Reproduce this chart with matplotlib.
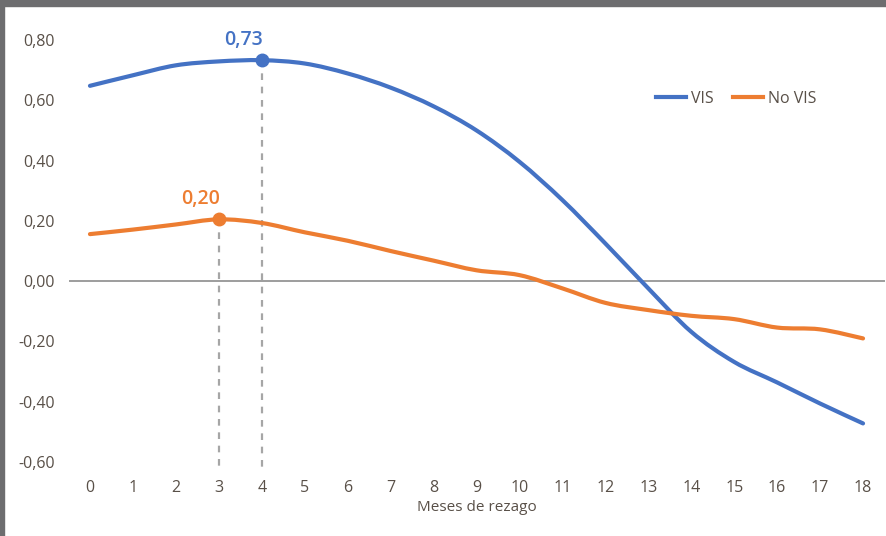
import numpy as np
import matplotlib
matplotlib.use("Agg")
import matplotlib.pyplot as plt
from matplotlib.path import Path
from matplotlib.patches import PathPatch, Rectangle
from matplotlib.lines import Line2D

plt.rcParams['font.family'] = ['Open Sans', 'DejaVu Sans']

# data
meses = list(range(19))
vis = [0.648, 0.683, 0.716, 0.729, 0.733, 0.722, 0.689, 0.642, 0.580, 0.500,
       0.396, 0.269, 0.125, -0.024, -0.168, -0.268, -0.336, -0.406, -0.472]
no_vis = [0.156, 0.171, 0.188, 0.205, 0.193, 0.162, 0.134, 0.100, 0.068, 0.036,
          0.020, -0.024, -0.072, -0.096, -0.115, -0.126, -0.154, -0.160, -0.190]
yticks = [-0.6, -0.4, -0.2, 0.0, 0.2, 0.4, 0.6, 0.8]
peak_vis = 4
peak_no_vis = 3

BLUE = '#4472C4'
ORANGE = '#ED7D31'
TXT = '#595048'


def smooth_path(x, y):
    # Catmull-Rom style cubic bezier, similar to Excel "smoothed line"
    pts = np.column_stack([x, y]).astype(float)
    n = len(pts)
    verts = [pts[0]]
    codes = [Path.MOVETO]
    for i in range(n - 1):
        p0 = pts[max(i - 1, 0)]
        p1 = pts[i]
        p2 = pts[i + 1]
        p3 = pts[min(i + 2, n - 1)]
        c1 = p1 + (p2 - p0) / 6.0
        c2 = p2 - (p3 - p1) / 6.0
        verts += [c1, c2, p2]
        codes += [Path.CURVE4] * 3
    return Path(verts, codes)


fig = plt.figure(figsize=(8.86, 5.36), dpi=100)
ax = fig.add_axes([68.5 / 886, 1 - 462 / 536, 816 / 886, 422 / 536])

ax.axhline(0, color='#8c8c8c', lw=1.2, zorder=1)

for ser, col in [(vis, BLUE), (no_vis, ORANGE)]:
    ax.add_patch(PathPatch(smooth_path(meses, ser), fill=False, edgecolor=col,
                           lw=3, capstyle='round', zorder=3))

# peak markers with dashed drop lines
for k, ser, col in [(peak_vis, vis, BLUE), (peak_no_vis, no_vis, ORANGE)]:
    ax.plot([meses[k], meses[k]], [ser[k], -0.62], ls=(0, (3, 3)), color='#a6a6a6',
            lw=1.6, zorder=2, clip_on=False)
    ax.plot(meses[k], ser[k], 'o', color=col, ms=9, zorder=4)
    ax.annotate(f"{ser[k]:.2f}".replace('.', ','), (meses[k], ser[k]),
                xytext=(1, 7.5), textcoords='offset points', ha='right',
                va='bottom', color=col, fontsize=14, fontweight='semibold')

ax.set_xlim(-0.5, 18.5)
ax.set_ylim(-0.6, 0.8)
ax.set_xticks(meses)
ax.set_yticks(yticks)
ax.set_yticklabels([f"{v:.2f}".replace('.', ',') for v in yticks])
ax.tick_params(length=0, labelsize=11.5, labelcolor=TXT)
ax.tick_params(axis='x', pad=13)
ax.tick_params(axis='y', pad=10)
for s in ax.spines.values():
    s.set_visible(False)
ax.set_xlabel('Meses de rezago', fontsize=11, color=TXT, labelpad=3)

handles = [Line2D([], [], color=BLUE, lw=3), Line2D([], [], color=ORANGE, lw=3)]
ax.legend(handles, ['VIS', 'No VIS'], loc='center', bbox_to_anchor=(736 / 886, 1 - 99 / 536),
          bbox_transform=fig.transFigure, ncol=2, frameon=False, fontsize=11.5,
          labelcolor=TXT, handlelength=1.9, handletextpad=0.3, columnspacing=1.2)

# grey frame of the original screenshot
fig.patches.append(Rectangle((0, 1 - 6 / 536), 1, 6 / 536, transform=fig.transFigure,
                             color='#6d6d6f', zorder=10))
fig.patches.append(Rectangle((0, 0), 4 / 886, 1, transform=fig.transFigure,
                             color='#6d6d6f', zorder=10))

fig.savefig('out.png', dpi=100)
